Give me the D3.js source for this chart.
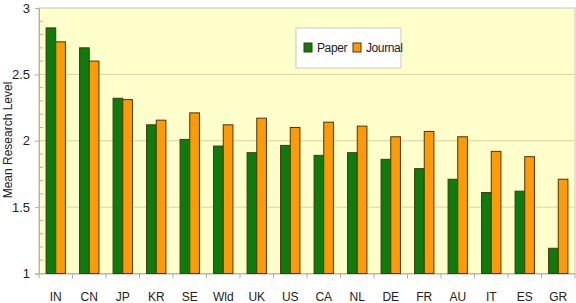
<!DOCTYPE html>
<html>
<head>
<meta charset="utf-8">
<script src="https://cdn.jsdelivr.net/npm/d3@7"></script>
<style>
  html, body { margin: 0; padding: 0; background: #fff; }
  svg { display: block; font-family: "Liberation Sans Narrow", "Liberation Sans", Arial, sans-serif; }
</style>
</head>
<body>
<svg id="chart" width="576" height="303"></svg>
<script>
  const countries = ['IN', 'CN', 'JP', 'KR', 'SE', 'Wld', 'UK', 'US', 'CA', 'NL', 'DE', 'FR', 'AU', 'IT', 'ES', 'GR'];
  const paper   = [2.85, 2.70, 2.32, 2.12, 2.01, 1.96, 1.91, 1.965, 1.89, 1.91, 1.86, 1.79, 1.71, 1.61, 1.62, 1.19];
  const journal = [2.745, 2.60, 2.31, 2.155, 2.21, 2.12, 2.17, 2.10, 2.14, 2.11, 2.03, 2.07, 2.03, 1.92, 1.88, 1.71];
  const seriesNames = ['Paper', 'Journal'];
  const yTicks = [1, 1.5, 2, 2.5, 3];

(function() {
  const colors = { Paper: '#0a7d0a', Journal: '#ff9a00' };
  const barStroke = '#4a3510';

  const svg = d3.select('#chart');
  const plotLeft = 39, plotRight = 575, plotTop = 8, plotBottom = 273.5;

  const x = d3.scaleBand()
    .domain(countries)
    .range([plotLeft, plotRight])
    .paddingInner(0)
    .paddingOuter(0);

  const inner = d3.scaleBand()
    .domain(seriesNames)
    .range([0, x.bandwidth()])
    .paddingOuter(0.73)
    .paddingInner(0);

  const y = d3.scaleLinear()
    .domain([1, 3])
    .range([plotBottom, plotTop]);

  // plot background
  svg.append('rect')
    .attr('x', plotLeft).attr('y', plotTop)
    .attr('width', plotRight - plotLeft).attr('height', plotBottom - plotTop)
    .attr('fill', '#ffffcc')
    .attr('stroke', '#c4c4c4')
    .attr('stroke-width', 1);

  // gridlines
  svg.append('g')
    .selectAll('line')
    .data(yTicks.filter(t => t > 1 && t < 3))
    .enter()
    .append('line')
    .attr('x1', plotLeft).attr('x2', plotRight)
    .attr('y1', d => y(d)).attr('y2', d => y(d))
    .attr('stroke', '#d6d49c')
    .attr('stroke-width', 1);

  // minor ticks on y axis
  svg.append('g')
    .selectAll('line')
    .data(d3.range(1.1, 3, 0.1).filter(v => Math.abs(v * 2 - Math.round(v * 2)) > 0.01))
    .enter()
    .append('line')
    .attr('x1', plotLeft).attr('x2', plotLeft + 4)
    .attr('y1', d => y(d)).attr('y2', d => y(d))
    .attr('stroke', '#b4b4a0')
    .attr('stroke-width', 1);

  // y axis
  const yAxis = svg.append('g')
    .attr('transform', `translate(${plotLeft},0)`)
    .call(d3.axisLeft(y).tickValues(yTicks).tickSize(4).tickPadding(5).tickFormat(d3.format('')));
  yAxis.select('.domain').attr('stroke', '#b0b0b0');
  yAxis.selectAll('.tick line').attr('stroke', '#b0b0b0');
  yAxis.selectAll('.tick text').attr('font-size', 13).attr('fill', '#222').attr('font-family', 'inherit');

  // x axis
  const xAxis = svg.append('g')
    .attr('transform', `translate(0,${plotBottom})`)
    .call(d3.axisBottom(x).tickSize(0).tickPadding(19));
  xAxis.select('.domain').attr('stroke', '#b0b0b0');
  xAxis.selectAll('.tick text').attr('font-size', 12).attr('fill', '#222').attr('font-family', 'inherit');

  // category separator ticks below axis
  svg.append('g')
    .selectAll('line')
    .data(countries.concat(['end']))
    .enter()
    .append('line')
    .attr('x1', (d, i) => i < countries.length ? x(d) : plotRight)
    .attr('x2', (d, i) => i < countries.length ? x(d) : plotRight)
    .attr('y1', plotBottom).attr('y2', plotBottom + 5)
    .attr('stroke', '#b0b0b0');

  // bars
  const rows = countries.map((c, i) => ({ country: c, Paper: paper[i], Journal: journal[i] }));
  svg.append('g')
    .selectAll('g')
    .data(rows)
    .enter()
    .append('g')
    .attr('transform', d => `translate(${x(d.country)},0)`)
    .selectAll('rect')
    .data(d => seriesNames.map(s => ({ key: s, value: d[s] })))
    .enter()
    .append('rect')
    .attr('x', d => inner(d.key))
    .attr('y', d => y(d.value))
    .attr('width', inner.bandwidth())
    .attr('height', d => y(1) - y(d.value))
    .attr('fill', d => colors[d.key])
    .attr('stroke', barStroke)
    .attr('stroke-width', 1);

  // y axis title
  svg.append('text')
    .attr('transform', 'translate(12,140) rotate(-90)')
    .attr('text-anchor', 'middle')
    .attr('font-size', 12)
    .attr('fill', '#222')
    .text('Mean Research Level');

  // legend
  const legend = svg.append('g').attr('transform', 'translate(296,28)');
  legend.append('rect')
    .attr('width', 105).attr('height', 40)
    .attr('fill', '#fff')
    .attr('stroke', '#c8c8c8');
  const items = [{ key: 'Paper', x: 8, tx: 21 }, { key: 'Journal', x: 57, tx: 70 }];
  items.forEach(it => {
    legend.append('rect')
      .attr('x', it.x).attr('y', 15)
      .attr('width', 8).attr('height', 9)
      .attr('fill', colors[it.key])
      .attr('stroke', barStroke);
    legend.append('text')
      .attr('x', it.tx).attr('y', 19.5)
      .attr('dy', '0.35em')
      .attr('font-size', 12)
      .attr('letter-spacing', -0.4)
      .attr('fill', '#222')
      .text(it.key);
  });
})();
</script>
</body>
</html>
